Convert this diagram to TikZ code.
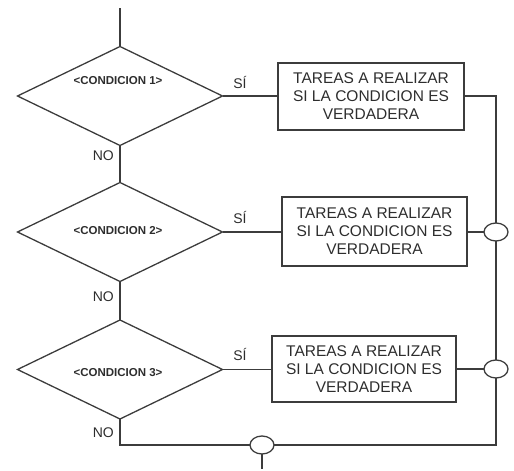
\documentclass[tikz,border=0pt]{standalone}
\usepackage{fontspec}
\setmainfont{Liberation Sans}
\usetikzlibrary{shapes.geometric}
\definecolor{ln}{RGB}{60,60,60}
\definecolor{tx}{RGB}{45,45,45}
\begin{document}
\begin{tikzpicture}[x=1pt,y=-1pt,
  conn/.style={draw=ln, line width=1.3pt},
  decision/.style={diamond, draw=ln, line width=1.3pt, minimum width=205pt, minimum height=99pt, inner sep=0pt, outer sep=0pt},
  condtext/.style={text=tx, inner sep=0pt, font=\bfseries\fontsize{11.5}{13}\selectfont},
  taskbox/.style={rectangle, draw=ln, line width=1.3pt, inner sep=0pt, outer sep=0pt, align=center, text=tx, font=\fontsize{15.5}{18}\selectfont},
  junction/.style={ellipse, draw=ln, line width=1.3pt, minimum width=24pt, minimum height=18pt, inner sep=0pt, outer sep=0pt},
  lbl/.style={text=tx, inner sep=0pt, font=\fontsize{14}{16}\selectfont}
]
\useasboundingbox (0,0) rectangle (514,471);

% decisions
\node[decision] (d1) at (120,96) {};
\node[decision] (d2) at (120,232) {};
\node[decision] (d3) at (120,369.5) {};
\node[condtext] (t1) at (118,81) {<CONDICION 1>};
\node[condtext] (t2) at (118,231) {<CONDICION 2>};
\node[condtext] (t3) at (118,373) {<CONDICION 3>};

% task boxes
\node[taskbox, minimum width=186pt, minimum height=67pt] (b1) at (371,96.5) {TAREAS A REALIZAR\\SI LA CONDICION ES\\VERDADERA};
\node[taskbox, minimum width=185pt, minimum height=69pt] (b2) at (374.5,231.5) {TAREAS A REALIZAR\\SI LA CONDICION ES\\VERDADERA};
\node[taskbox, minimum width=184pt, minimum height=66pt] (b3) at (364,369) {TAREAS A REALIZAR\\SI LA CONDICION ES\\VERDADERA};

% junctions
\node[junction] (c2) at (496,232) {};
\node[junction] (c3) at (496,369) {};
\node[junction] (c4) at (262,445) {};

% labels
\node[lbl] (s1) at (240,82) {SÍ};
\node[lbl] (s2) at (240,217) {SÍ};
\node[lbl] (s3) at (240,354) {SÍ};
\node[lbl, anchor=east] (n1) at (114,156) {NO};
\node[lbl, anchor=east] (n2) at (114,297) {NO};
\node[lbl, anchor=east] (n3) at (114,433) {NO};

\coordinate (start) at (120,8);
\coordinate (finish) at (262,469);

% connectors
\draw[conn] (start) -- (d1.north);
\draw[conn] (d1.east) -- (d1.east -| b1.west);
\draw[conn] (d1.east -| b1.east) -| (c2.north);
\draw[conn] (d1.south) -- (d2.north);
\draw[conn] (d2.east) -- (d2.east -| b2.west);
\draw[conn] (b2.east |- c2.west) -- (c2.west);
\draw[conn] (c2.south) -- (c3.north);
\draw[conn] (d2.south) -- (d3.north);
\draw[conn] (d3.east) -- (d3.east -| b3.west);
\draw[conn] (b3.east |- c3.west) -- (c3.west);
\draw[conn] (d3.south) |- (c4.west);
\draw[conn] (c3.south) |- (c4.east);
\draw[conn] (c4.south) -- (finish);
\end{tikzpicture}
\end{document}
